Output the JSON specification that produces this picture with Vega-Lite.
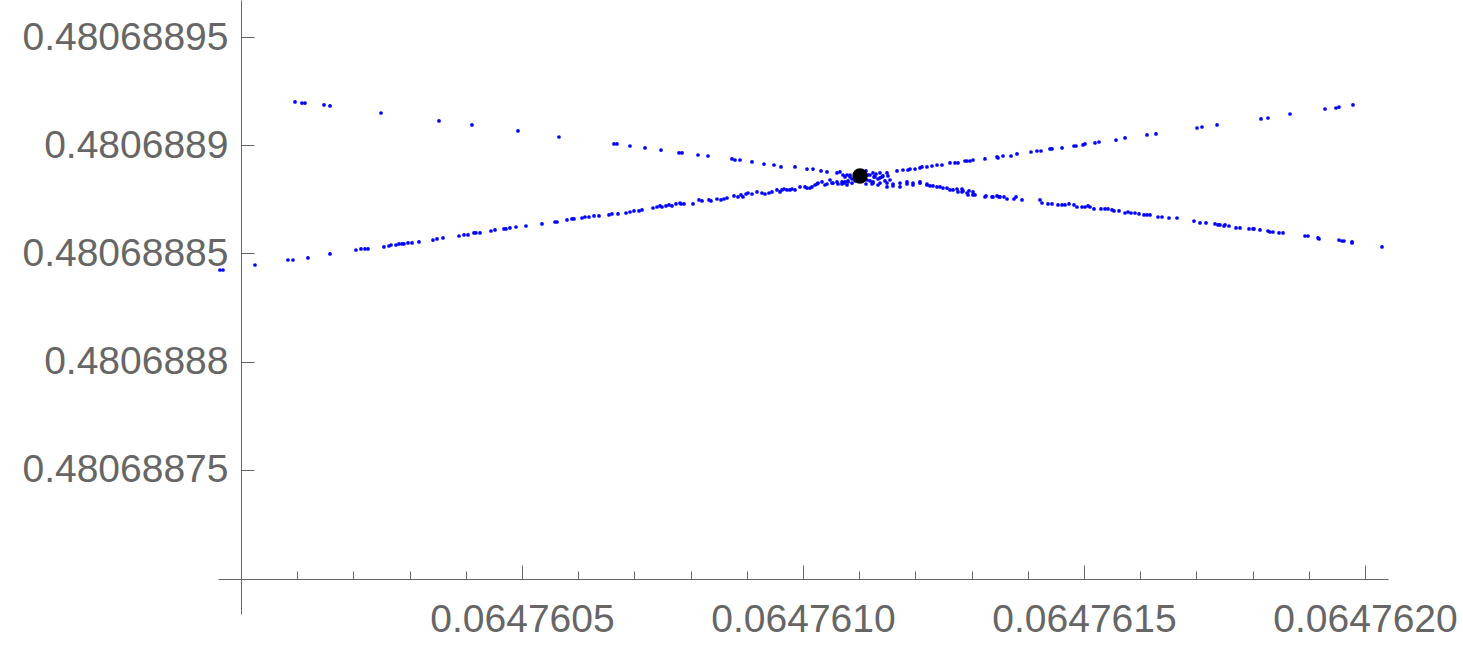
{
  "$schema": "https://vega.github.io/schema/vega-lite/v6.json",
  "width": 1170,
  "height": 614,
  "autosize": {"type": "none"},
  "padding": {"left": 218, "top": 0, "right": 75, "bottom": 31},
  "background": "white",
  "config": {"view": {"stroke": null}},
  "datasets": {
    "pts": [
      {"x":0.0647600961,"y":0.48068891997},{"x":0.0647601085,"y":0.48068891950},{"x":0.0647601139,"y":0.48068891950},{"x":0.0647601477,"y":0.48068891858},{"x":0.0647601584,"y":0.48068891812},{"x":0.0647602491,"y":0.48068891488},{"x":0.0647603523,"y":0.48068891119},{"x":0.0647604110,"y":0.48068890934},{"x":0.0647604929,"y":0.48068890657},{"x":0.0647605658,"y":0.48068890379},{"x":0.0647606637,"y":0.48068890056},{"x":0.0647606690,"y":0.48068890056},{"x":0.0647606922,"y":0.48068889963},{"x":0.0647607189,"y":0.48068889871},{"x":0.0647607473,"y":0.48068889778},{"x":0.0647607794,"y":0.48068889640},{"x":0.0647607847,"y":0.48068889640},{"x":0.0647608132,"y":0.48068889547},{"x":0.0647608310,"y":0.48068889501},{"x":0.0647608737,"y":0.48068889363},{"x":0.0647608790,"y":0.48068889316},{"x":0.0647608879,"y":0.48068889316},{"x":0.0647609093,"y":0.48068889224},{"x":0.0647609306,"y":0.48068889131},{"x":0.0647609484,"y":0.48068889085},{"x":0.0647609609,"y":0.48068888993},{"x":0.0647609858,"y":0.48068888993},{"x":0.0647610071,"y":0.48068888900},{"x":0.0647610178,"y":0.48068888900},{"x":0.0647610320,"y":0.48068888808},{"x":0.0647610427,"y":0.48068888762},{"x":0.0647610605,"y":0.48068888716},{"x":0.0647610658,"y":0.48068888762},{"x":0.0647610712,"y":0.48068888623},{"x":0.0647610783,"y":0.48068888623},{"x":0.0647610836,"y":0.48068888531},
      {"x":0.0647611246,"y":0.48068888253},{"x":0.0647611246,"y":0.48068888300},{"x":0.0647611335,"y":0.48068888161},{"x":0.0647611370,"y":0.48068888253},{"x":0.0647611495,"y":0.48068888253},{"x":0.0647611495,"y":0.48068888069},{"x":0.0647611601,"y":0.48068888207},{"x":0.0647611601,"y":0.48068888115},{"x":0.0647611726,"y":0.48068888253},{"x":0.0647611726,"y":0.48068888069},{"x":0.0647611851,"y":0.48068888300},{"x":0.0647611851,"y":0.48068888207},{"x":0.0647611957,"y":0.48068888253},{"x":0.0647611957,"y":0.48068888161},{"x":0.0647612082,"y":0.48068888253},{"x":0.0647612082,"y":0.48068888300},{"x":0.0647612206,"y":0.48068888161},{"x":0.0647612206,"y":0.48068888207},{"x":0.0647612260,"y":0.48068888115},{"x":0.0647612313,"y":0.48068888115},{"x":0.0647612384,"y":0.48068888069},{"x":0.0647612438,"y":0.48068888069},{"x":0.0647612491,"y":0.48068888022},{"x":0.0647612562,"y":0.48068888022},{"x":0.0647612616,"y":0.48068887930},{"x":0.0647612669,"y":0.48068887930},{"x":0.0647612740,"y":0.48068887976},{"x":0.0647612758,"y":0.48068887838},{"x":0.0647612829,"y":0.48068887976},{"x":0.0647612829,"y":0.48068887838},{"x":0.0647612847,"y":0.48068887884},{"x":0.0647612918,"y":0.48068887791},{"x":0.0647612954,"y":0.48068887884},{"x":0.0647612936,"y":0.48068887699},{"x":0.0647613025,"y":0.48068887838},{"x":0.0647613025,"y":0.48068887699},{"x":0.0647613061,"y":0.48068887699},{"x":0.0647613238,"y":0.48068887607},{"x":0.0647613256,"y":0.48068887653},{"x":0.0647613363,"y":0.48068887607},{"x":0.0647613381,"y":0.48068887607},{"x":0.0647613452,"y":0.48068887653},{"x":0.0647613488,"y":0.48068887607},{"x":0.0647613505,"y":0.48068887607},{"x":0.0647613577,"y":0.48068887607},{"x":0.0647613630,"y":0.48068887514},{"x":0.0647613754,"y":0.48068887514},{"x":0.0647613790,"y":0.48068887607},{"x":0.0647613897,"y":0.48068887468},{"x":0.0647614217,"y":0.48068887468},{"x":0.0647614253,"y":0.48068887329},{"x":0.0647614359,"y":0.48068887283},{"x":0.0647614431,"y":0.48068887283},{"x":0.0647614537,"y":0.48068887237},{"x":0.0647614609,"y":0.48068887237},{"x":0.0647614662,"y":0.48068887237},{"x":0.0647614733,"y":0.48068887283},{"x":0.0647614822,"y":0.48068887237},{"x":0.0647614875,"y":0.48068887144},{"x":0.0647614964,"y":0.48068887144},{"x":0.0647615018,"y":0.48068887144},{"x":0.0647615071,"y":0.48068887191},{"x":0.0647615107,"y":0.48068887144},{"x":0.0647615178,"y":0.48068887052},{"x":0.0647615302,"y":0.48068887052},{"x":0.0647615374,"y":0.48068887052},{"x":0.0647615427,"y":0.48068887052},{"x":0.0647615498,"y":0.48068887006},{"x":0.0647615534,"y":0.48068886960},{"x":0.0647615623,"y":0.48068886960},{"x":0.0647615730,"y":0.48068886867},{"x":0.0647615783,"y":0.48068886913},{"x":0.0647615836,"y":0.48068886867},{"x":0.0647615907,"y":0.48068886867},{"x":0.0647615979,"y":0.48068886821},{"x":0.0647616068,"y":0.48068886775},{"x":0.0647616121,"y":0.48068886775},{"x":0.0647616174,"y":0.48068886775},{"x":0.0647616317,"y":0.48068886682},{"x":0.0647616388,"y":0.48068886682},{"x":0.0647616512,"y":0.48068886636},{"x":0.0647616655,"y":0.48068886636},{"x":0.0647616957,"y":0.48068886497},{"x":0.0647617064,"y":0.48068886405},{"x":0.0647617171,"y":0.48068886405},{"x":0.0647617331,"y":0.48068886359},{"x":0.0647617384,"y":0.48068886313},{"x":0.0647617420,"y":0.48068886313},{"x":0.0647617491,"y":0.48068886266},{"x":0.0647617509,"y":0.48068886313},{"x":0.0647617580,"y":0.48068886266},{"x":0.0647617705,"y":0.48068886174},{"x":0.0647617776,"y":0.48068886174},{"x":0.0647617936,"y":0.48068886128},{"x":0.0647618007,"y":0.48068886128},{"x":0.0647618025,"y":0.48068886128},{"x":0.0647618132,"y":0.48068886082},{"x":0.0647618274,"y":0.48068886035},{"x":0.0647618310,"y":0.48068885989},{"x":0.0647618363,"y":0.48068885989},{"x":0.0647618470,"y":0.48068885943},{"x":0.0647618541,"y":0.48068885943},{"x":0.0647618932,"y":0.48068885804},{"x":0.0647618986,"y":0.48068885804},{"x":0.0647619164,"y":0.48068885712},{"x":0.0647619182,"y":0.48068885666},{"x":0.0647619537,"y":0.48068885619},{"x":0.0647619591,"y":0.48068885573},{"x":0.0647619626,"y":0.48068885573},{"x":0.0647619769,"y":0.48068885527},{"x":0.0647619769,"y":0.48068885481},{"x":0.0647620302,"y":0.48068885296},
      {"x":0.0647599626,"y":0.48068884233},{"x":0.0647599680,"y":0.48068884233},{"x":0.0647600249,"y":0.48068884464},{"x":0.0647600836,"y":0.48068884695},{"x":0.0647600925,"y":0.48068884695},{"x":0.0647601192,"y":0.48068884788},{"x":0.0647601584,"y":0.48068884973},{"x":0.0647602046,"y":0.48068885157},{"x":0.0647602135,"y":0.48068885204},{"x":0.0647602206,"y":0.48068885204},{"x":0.0647602260,"y":0.48068885204},{"x":0.0647602544,"y":0.48068885296},{"x":0.0647602633,"y":0.48068885342},{"x":0.0647602669,"y":0.48068885388},{"x":0.0647602758,"y":0.48068885388},{"x":0.0647602811,"y":0.48068885435},{"x":0.0647602865,"y":0.48068885435},{"x":0.0647602900,"y":0.48068885435},{"x":0.0647602972,"y":0.48068885481},{"x":0.0647603043,"y":0.48068885481},{"x":0.0647603167,"y":0.48068885527},{"x":0.0647603416,"y":0.48068885619},{"x":0.0647603488,"y":0.48068885666},{"x":0.0647603594,"y":0.48068885712},{"x":0.0647603879,"y":0.48068885804},{"x":0.0647603968,"y":0.48068885851},{"x":0.0647604039,"y":0.48068885851},{"x":0.0647604146,"y":0.48068885943},{"x":0.0647604181,"y":0.48068885943},{"x":0.0647604253,"y":0.48068885943},{"x":0.0647604448,"y":0.48068886035},{"x":0.0647604520,"y":0.48068886082},{"x":0.0647604680,"y":0.48068886128},{"x":0.0647604715,"y":0.48068886128},{"x":0.0647604786,"y":0.48068886174},{"x":0.0647604893,"y":0.48068886220},{"x":0.0647605071,"y":0.48068886266},{"x":0.0647605356,"y":0.48068886359},{"x":0.0647605587,"y":0.48068886451},{"x":0.0647605623,"y":0.48068886451},{"x":0.0647605801,"y":0.48068886544},{"x":0.0647605890,"y":0.48068886590},{"x":0.0647605925,"y":0.48068886590},{"x":0.0647606068,"y":0.48068886636},{"x":0.0647606121,"y":0.48068886682},{"x":0.0647606192,"y":0.48068886682},{"x":0.0647606281,"y":0.48068886729},{"x":0.0647606370,"y":0.48068886729},{"x":0.0647606548,"y":0.48068886775},{"x":0.0647606601,"y":0.48068886821},{"x":0.0647606708,"y":0.48068886821},{"x":0.0647606851,"y":0.48068886867},{"x":0.0647606922,"y":0.48068886913},{"x":0.0647606993,"y":0.48068886960},{"x":0.0647607082,"y":0.48068886960},{"x":0.0647607135,"y":0.48068887006},{"x":0.0647607331,"y":0.48068887098},{"x":0.0647607402,"y":0.48068887144},{"x":0.0647607456,"y":0.48068887191},{"x":0.0647607491,"y":0.48068887144},{"x":0.0647607562,"y":0.48068887191},{"x":0.0647607616,"y":0.48068887237},{"x":0.0647607669,"y":0.48068887191},{"x":0.0647607740,"y":0.48068887283},{"x":0.0647607811,"y":0.48068887329},{"x":0.0647607829,"y":0.48068887283},{"x":0.0647607883,"y":0.48068887283},{"x":0.0647608043,"y":0.48068887283},{"x":0.0647608149,"y":0.48068887468},{"x":0.0647608203,"y":0.48068887422},{"x":0.0647608327,"y":0.48068887468},{"x":0.0647608363,"y":0.48068887422},{"x":0.0647608470,"y":0.48068887514},{"x":0.0647608541,"y":0.48068887468},{"x":0.0647608594,"y":0.48068887514},{"x":0.0647608648,"y":0.48068887560},{"x":0.0647608772,"y":0.48068887653},{"x":0.0647608843,"y":0.48068887607},{"x":0.0647608897,"y":0.48068887699},{"x":0.0647608932,"y":0.48068887607},{"x":0.0647608986,"y":0.48068887745},{"x":0.0647609021,"y":0.48068887791},{"x":0.0647609093,"y":0.48068887745},{"x":0.0647609181,"y":0.48068887838},{"x":0.0647609270,"y":0.48068887791},{"x":0.0647609324,"y":0.48068887745},{"x":0.0647609395,"y":0.48068887791},{"x":0.0647609448,"y":0.48068887838},{"x":0.0647609537,"y":0.48068887930},{"x":0.0647609591,"y":0.48068887838},{"x":0.0647609626,"y":0.48068887930},{"x":0.0647609662,"y":0.48068887976},{"x":0.0647609715,"y":0.48068887930},{"x":0.0647609769,"y":0.48068887930},{"x":0.0647609804,"y":0.48068887976},{"x":0.0647609858,"y":0.48068887930},{"x":0.0647609947,"y":0.48068888069},{"x":0.0647610036,"y":0.48068888069},{"x":0.0647610071,"y":0.48068888022},{"x":0.0647610125,"y":0.48068888022},{"x":0.0647610160,"y":0.48068888069},{"x":0.0647610214,"y":0.48068888161},{"x":0.0647610249,"y":0.48068888207},{"x":0.0647610267,"y":0.48068888253},{"x":0.0647610338,"y":0.48068888300},{"x":0.0647610391,"y":0.48068888161},{"x":0.0647610427,"y":0.48068888207},{"x":0.0647610480,"y":0.48068888392},{"x":0.0647610516,"y":0.48068888253},{"x":0.0647610534,"y":0.48068888253},{"x":0.0647610605,"y":0.48068888300},{"x":0.0647610623,"y":0.48068888207},{"x":0.0647610694,"y":0.48068888207},{"x":0.0647610694,"y":0.48068888300},{"x":0.0647610747,"y":0.48068888300},{"x":0.0647610783,"y":0.48068888161},{"x":0.0647610801,"y":0.48068888300},{"x":0.0647610872,"y":0.48068888253},{"x":0.0647610925,"y":0.48068888346},
      {"x":0.0647611014,"y":0.48068888762},{"x":0.0647611121,"y":0.48068888808},{"x":0.0647611246,"y":0.48068888716},{"x":0.0647611370,"y":0.48068888716},{"x":0.0647611495,"y":0.48068888716},{"x":0.0647611673,"y":0.48068888808},{"x":0.0647611779,"y":0.48068888854},{"x":0.0647611868,"y":0.48068888854},{"x":0.0647611904,"y":0.48068888900},{"x":0.0647611993,"y":0.48068888900},{"x":0.0647612082,"y":0.48068888947},{"x":0.0647612117,"y":0.48068888993},{"x":0.0647612206,"y":0.48068888993},{"x":0.0647612295,"y":0.48068889039},{"x":0.0647612384,"y":0.48068889085},{"x":0.0647612473,"y":0.48068889085},{"x":0.0647612616,"y":0.48068889178},{"x":0.0647612705,"y":0.48068889178},{"x":0.0647612758,"y":0.48068889178},{"x":0.0647612883,"y":0.48068889270},{"x":0.0647612918,"y":0.48068889270},{"x":0.0647612972,"y":0.48068889270},{"x":0.0647613025,"y":0.48068889316},{"x":0.0647613238,"y":0.48068889363},{"x":0.0647613452,"y":0.48068889455},{"x":0.0647613470,"y":0.48068889409},{"x":0.0647613559,"y":0.48068889501},{"x":0.0647613701,"y":0.48068889501},{"x":0.0647613808,"y":0.48068889594},{"x":0.0647614057,"y":0.48068889686},{"x":0.0647614164,"y":0.48068889732},{"x":0.0647614235,"y":0.48068889732},{"x":0.0647614395,"y":0.48068889825},{"x":0.0647614431,"y":0.48068889825},{"x":0.0647614609,"y":0.48068889871},{"x":0.0647614822,"y":0.48068889963},{"x":0.0647614858,"y":0.48068889963},{"x":0.0647614982,"y":0.48068890010},{"x":0.0647615018,"y":0.48068890056},{"x":0.0647615196,"y":0.48068890102},{"x":0.0647615267,"y":0.48068890148},{"x":0.0647615569,"y":0.48068890240},{"x":0.0647615730,"y":0.48068890333},{"x":0.0647616121,"y":0.48068890472},{"x":0.0647616281,"y":0.48068890518},{"x":0.0647617011,"y":0.48068890795},{"x":0.0647617100,"y":0.48068890841},{"x":0.0647617367,"y":0.48068890934},{"x":0.0647618149,"y":0.48068891211},{"x":0.0647618274,"y":0.48068891257},{"x":0.0647618665,"y":0.48068891442},{"x":0.0647619288,"y":0.48068891673},{"x":0.0647619484,"y":0.48068891719},{"x":0.0647619537,"y":0.48068891765},{"x":0.0647619786,"y":0.48068891858},
      {"x":0.0647610747,"y":0.48068888531},{"x":0.0647610836,"y":0.48068888623},{"x":0.0647610872,"y":0.48068888438},{"x":0.0647610925,"y":0.48068888669},{"x":0.0647610979,"y":0.48068888346},{"x":0.0647611103,"y":0.48068888438},{"x":0.0647611157,"y":0.48068888623},{"x":0.0647611192,"y":0.48068888346},{"x":0.0647611263,"y":0.48068888531},{"x":0.0647611299,"y":0.48068888669},{"x":0.0647611335,"y":0.48068888438},{"x":0.0647611406,"y":0.48068888531},{"x":0.0647611459,"y":0.48068888346},{"x":0.0647611512,"y":0.48068888577},{"x":0.0647611548,"y":0.48068888392},{"x":0.0647610801,"y":0.48068888346},{"x":0.0647610730,"y":0.48068888253},{"x":0.0647611121,"y":0.48068888207},{"x":0.0647611228,"y":0.48068888207},{"x":0.0647611192,"y":0.48068888623},{"x":0.0647611281,"y":0.48068888531},{"x":0.0647611139,"y":0.48068888392},{"x":0.0647611370,"y":0.48068888485},{"x":0.0647611423,"y":0.48068888577}
    ],
    "dot": [{"x": 0.0647611014, "y": 0.48068888577}]
  },
  "encoding": {
    "x": {
      "field": "x",
      "type": "quantitative",
      "scale": {"domain": [0.0647599591, 0.0647620409], "nice": false, "zero": false},
      "axis": {
        "orient": "bottom",
        "offset": -35,
        "title": null,
        "grid": false,
        "values": [0.0647601,0.0647602,0.0647603,0.0647604,0.0647605,0.0647606,0.0647607,0.0647608,0.0647609,0.064761,0.0647611,0.0647612,0.0647613,0.0647614,0.0647615,0.0647616,0.0647617,0.0647618,0.0647619,0.064762],
        "labelExpr": "abs(round(datum.value*2e6) - datum.value*2e6) < 0.01 ? format(datum.value, '.7f') : ''",
        "tickSize": {"condition": {"test": "abs(round(datum.value*2e6) - datum.value*2e6) < 0.01", "value": -14}, "value": -8},
        "labelPadding": 35,
        "labelFont": "Liberation Sans",
        "labelFontSize": 39,
        "labelColor": "#666666",
        "labelLimit": 0,
        "labelFlush": false,
        "labelOverlap": false,
        "labelBaseline": "top",
        "domainColor": "#666666",
        "tickColor": "#666666",
        "domainWidth": 1,
        "tickWidth": 1
      }
    },
    "y": {
      "field": "y",
      "type": "quantitative",
      "scale": {"domain": [0.48068868336, 0.4806889671], "nice": false, "zero": false},
      "axis": {
        "orient": "left",
        "offset": -23,
        "title": null,
        "grid": false,
        "values": [0.48068875, 0.4806888, 0.48068885, 0.4806889, 0.48068895],
        "format": ".8~f",
        "tickSize": -13,
        "labelPadding": 26,
        "labelFont": "Liberation Sans",
        "labelFontSize": 39,
        "labelColor": "#666666",
        "labelLimit": 0,
        "labelFlush": false,
        "labelOverlap": false,
        "domainColor": "#666666",
        "tickColor": "#666666",
        "domainWidth": 1,
        "tickWidth": 1
      }
    }
  },
  "layer": [
    {
      "data": {"name": "pts"},
      "mark": {"type": "circle", "color": "#0000ff", "opacity": 1, "size": 14, "clip": false}
    },
    {
      "data": {"name": "dot"},
      "mark": {"type": "circle", "color": "#000000", "opacity": 1, "size": 240}
    }
  ]
}
